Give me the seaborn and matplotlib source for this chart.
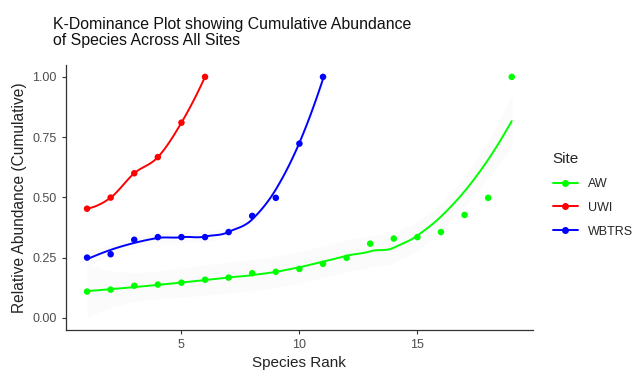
"""K-dominance plot: cumulative relative abundance by species rank, per site."""
import numpy as np
import pandas as pd
import matplotlib
import matplotlib.pyplot as plt
import seaborn as sns
from matplotlib.lines import Line2D

matplotlib.use("Agg")

# Data
aw_rank = list(range(1, 20))
aw_cum = [0.109, 0.117, 0.133, 0.138, 0.146, 0.158, 0.167, 0.185, 0.191, 0.203,
          0.224, 0.249, 0.308, 0.329, 0.335, 0.356, 0.427, 0.498, 1.0]
uwi_rank = list(range(1, 7))
uwi_cum = [0.453, 0.499, 0.600, 0.667, 0.810, 1.0]
wbtrs_rank = list(range(1, 12))
wbtrs_cum = [0.250, 0.264, 0.324, 0.335, 0.335, 0.335, 0.356, 0.423, 0.498, 0.723, 1.0]

SITES = ["AW", "UWI", "WBTRS"]
COLORS = {"AW": "#00FF00", "UWI": "#FF0000", "WBTRS": "#0000FF"}

df = pd.concat([
    pd.DataFrame({"Site": "AW", "rank": aw_rank, "cum": aw_cum}),
    pd.DataFrame({"Site": "UWI", "rank": uwi_rank, "cum": uwi_cum}),
    pd.DataFrame({"Site": "WBTRS", "rank": wbtrs_rank, "cum": wbtrs_cum}),
])


def loess(x, y, span=0.75, n_out=120):
    """Local quadratic fit with tricube weights, evaluated at the data points
    and joined with cubic Hermite interpolation (roughly what R's loess does)."""
    x = np.asarray(x, float)
    y = np.asarray(y, float)
    n = len(x)
    q = max(int(np.floor(n * span)), 3)

    def smoother_rows(x0):
        d = np.abs(x - x0)
        h = np.sort(d)[q - 1] * 1.0001
        w = np.clip(1 - (d / h) ** 3, 0, None) ** 3
        X = np.column_stack([np.ones(n), x - x0, (x - x0) ** 2])
        W = np.diag(w)
        A = np.linalg.pinv(X.T @ W @ X) @ X.T @ W
        return A[0], A[1]

    verts = np.unique(x)
    L0 = np.array([smoother_rows(v)[0] for v in verts])
    L1 = np.array([smoother_rows(v)[1] for v in verts])
    f0, f1 = L0 @ y, L1 @ y

    resid = y - np.array([smoother_rows(xi)[0] for xi in x]) @ y
    dof = max(n - np.trace(L0), 1)
    sigma = np.sqrt(np.sum(resid ** 2) / dof)
    se_v = sigma * np.sqrt(np.sum(L0 ** 2, axis=1))

    grid = np.linspace(verts[0], verts[-1], n_out)
    fit = np.empty_like(grid)
    se = np.empty_like(grid)
    for k, g in enumerate(grid):
        i = min(np.searchsorted(verts, g, side="right") - 1, len(verts) - 2)
        hh = verts[i + 1] - verts[i]
        t = (g - verts[i]) / hh
        h00 = 2 * t**3 - 3 * t**2 + 1
        h10 = t**3 - 2 * t**2 + t
        h01 = -2 * t**3 + 3 * t**2
        h11 = t**3 - t**2
        fit[k] = h00 * f0[i] + h10 * hh * f1[i] + h01 * f0[i + 1] + h11 * hh * f1[i + 1]
        se[k] = (1 - t) * se_v[i] + t * se_v[i + 1]
    return grid, fit, se


sns.set_style("ticks")
plt.rcParams["font.family"] = ["Liberation Sans", "DejaVu Sans"]

fig = plt.figure(figsize=(6.33, 3.77), dpi=100)
ax = fig.add_axes([0.104, 0.125, 0.738, 0.703])

for site in SITES:
    sub = df[df["Site"] == site]
    gx, gy, se = loess(sub["rank"], sub["cum"])
    ax.fill_between(gx, gy - 1.96 * se, gy + 1.96 * se, color="#999999", alpha=0.04, lw=0, zorder=1)
    ax.plot(gx, gy, color=COLORS[site], lw=1.4, zorder=2)

sns.scatterplot(data=df, x="rank", y="cum", hue="Site", palette=COLORS, hue_order=SITES,
                s=22, edgecolor="none", ax=ax, legend=False, zorder=3)

ax.set_xlim(0.1, 19.9)
ax.set_ylim(-0.05, 1.05)
ax.set_xticks([5, 10, 15])
ax.set_yticks([0, 0.25, 0.5, 0.75, 1.0])
ax.set_yticklabels(["0.00", "0.25", "0.50", "0.75", "1.00"])
ax.tick_params(colors="#333333", labelcolor="#4D4D4D", labelsize=9, length=3, width=0.8)
for side in ["top", "right"]:
    ax.spines[side].set_visible(False)
for side in ["left", "bottom"]:
    ax.spines[side].set_color("#333333")
    ax.spines[side].set_linewidth(0.9)

ax.set_xlabel("Species Rank", fontsize=11, color="#222222")
ax.set_ylabel("Relative Abundance (Cumulative)", fontsize=11.2, color="#222222")
fig.text(0.084, 0.873, "K-Dominance Plot showing Cumulative Abundance\nof Species Across All Sites",
         fontsize=11.4, color="#111111", ha="left", va="bottom", linespacing=1.1)

handles = [Line2D([0], [0], color=COLORS[s], marker="o", ms=4, lw=1.4, label=s) for s in SITES]
leg = fig.legend(handles=handles, title="Site", loc="upper left", bbox_to_anchor=(0.865, 0.61),
                 frameon=False, fontsize=9, title_fontsize=11, handlelength=2.0,
                 labelspacing=0.95, borderaxespad=0)
leg._legend_box.align = "left"

fig.savefig("out.png", dpi=100)
plt.close(fig)
